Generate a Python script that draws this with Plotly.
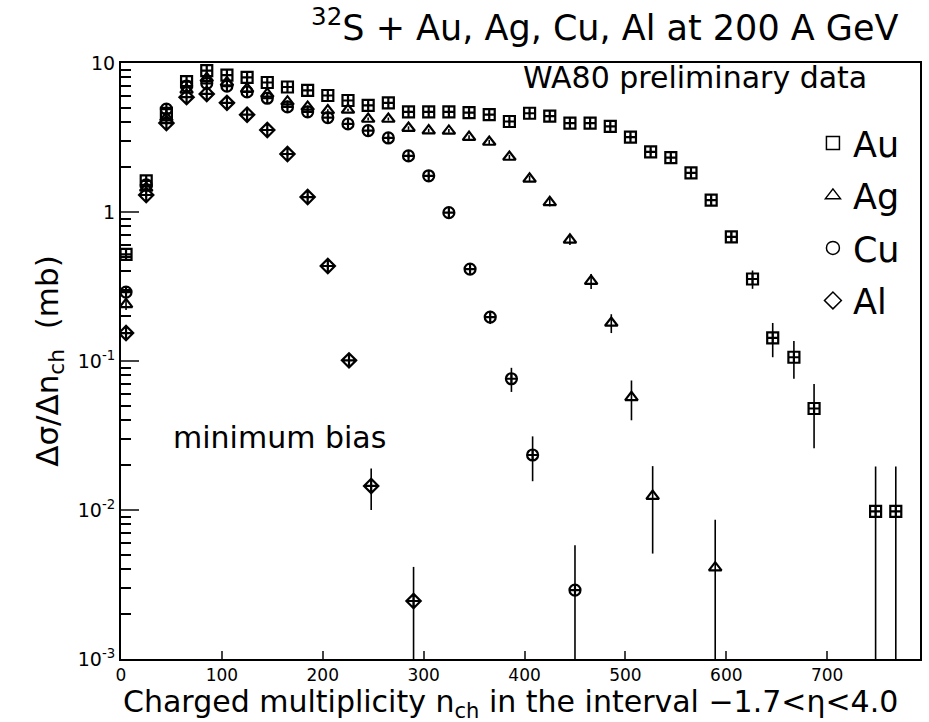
import plotly.graph_objects as go

# ---------------- data ----------------
au_n = [5, 25, 45, 65, 85, 105, 125, 145, 165, 185, 205, 225, 245, 265, 285, 305, 325, 345,
        365, 385, 405, 425, 445, 465, 485, 505, 525, 545, 565, 585, 605, 626, 646, 667, 687,
        748, 768]
au_val = [0.52, 1.62, 4.6, 7.5, 8.9, 8.3, 8.0, 7.4, 6.9, 6.55, 6.05, 5.6, 5.2, 5.4, 4.7, 4.7,
          4.7, 4.65, 4.5, 4.05, 4.6, 4.4, 3.95, 3.95, 3.75, 3.18, 2.53, 2.32, 1.83, 1.2, 0.68,
          0.355, 0.143, 0.106, 0.048, 0.0098, 0.0098]
au_err = [0.03, 0.05, 0.1, 0.1, 0.1, 0.1, 0.1, 0.1, 0.1, 0.1, 0.1, 0.1, 0.1, 0.1, 0.1, 0.1,
          0.1, 0.1, 0.1, 0.1, 0.1, 0.1, 0.1, 0.1, 0.1, 0.1, 0.1, 0.1, 0.08, 0.06, 0.06,
          0.05, 0.037, 0.03, 0.022, 0.0098, 0.0098]

ag_n = [5, 25, 45, 65, 85, 105, 125, 145, 165, 185, 205, 225, 245, 265, 285, 305, 325, 345,
        365, 385, 405, 425, 445, 466, 486, 506, 527, 589]
ag_val = [0.24, 1.45, 4.3, 6.6, 7.9, 7.4, 6.7, 6.2, 5.5, 5.07, 4.8, 4.84, 4.21, 4.21, 3.66,
          3.52, 3.5, 3.18, 2.95, 2.34, 1.67, 1.16, 0.65, 0.344, 0.18, 0.057, 0.0124, 0.0041]
ag_err = [0.02, 0.05, 0.1, 0.1, 0.1, 0.1, 0.1, 0.1, 0.1, 0.1, 0.1, 0.1, 0.1, 0.1, 0.1,
          0.1, 0.1, 0.1, 0.1, 0.08, 0.08, 0.07, 0.05, 0.04, 0.026, 0.017, 0.0073, 0.0045]

cu_n = [5, 25, 45, 65, 85, 105, 125, 145, 165, 185, 205, 225, 245, 265, 285, 305, 325, 346,
        366, 387, 408, 450]
cu_val = [0.29, 1.52, 4.9, 7.0, 7.3, 7.0, 6.4, 5.8, 5.07, 4.7, 4.3, 3.9, 3.52, 3.14, 2.38,
          1.75, 0.99, 0.414, 0.197, 0.076, 0.0234, 0.0029]
cu_err = [0.02, 0.05, 0.1, 0.1, 0.1, 0.1, 0.1, 0.1, 0.1, 0.1, 0.1, 0.1, 0.1, 0.1, 0.08,
          0.06, 0.05, 0.025, 0.02, 0.014, 0.0078, 0.0029]

al_n = [5, 25, 45, 65, 85, 105, 125, 145, 165, 185, 205, 226, 248, 290]
al_val = [0.154, 1.3, 3.95, 5.9, 6.2, 5.4, 4.5, 3.55, 2.45, 1.26, 0.434, 0.101, 0.0145, 0.00245]
al_err = [0.015, 0.05, 0.1, 0.1, 0.1, 0.1, 0.1, 0.1, 0.08, 0.05, 0.02, 0.008, 0.0045, 0.0017]

series = [
    ("Au", au_n, au_val, au_err, "square-cross-open", "square-open"),
    ("Ag", ag_n, ag_val, ag_err, "triangle-up-open", "triangle-up-open"),
    ("Cu", cu_n, cu_val, cu_err, "circle-cross-open", "circle-open"),
    ("Al", al_n, al_val, al_err, "diamond-cross-open", "diamond-open"),
]

x_ticks = [0, 100, 200, 300, 400, 500, 600, 700]
y_ticks = [1e-3, 1e-2, 1e-1, 1, 10]
y_ticktext = ["10<sup>-3</sup>", "10<sup>-2</sup>", "10<sup>-1</sup>", "1", "10"]
y_minor = [m * 10 ** e for e in (-3, -2, -1, 0) for m in range(2, 10)]

FONT = "DejaVu Sans"

fig = go.Figure()
for name, n, v, e, sym, legsym in series:
    minus = [min(ei, 0.995 * vi) for ei, vi in zip(e, v)]
    fig.add_trace(go.Scatter(
        x=n, y=v, mode="markers", name=name, showlegend=False,
        marker=dict(symbol=sym, size=11, color="black", line=dict(color="black", width=2.2)),
        error_y=dict(type="data", array=e, arrayminus=minus, symmetric=False,
                     color="black", thickness=1.6, width=0),
    ))
for name, n, v, e, sym, legsym in series:
    fig.add_trace(go.Scatter(
        x=[None], y=[None], mode="markers", name=name, legendgroup=name,
        marker=dict(symbol=legsym, size=13, color="black", line=dict(color="black", width=1.5)),
    ))

fig.update_layout(
    width=929, height=722,
    margin=dict(l=121, r=7, t=63, b=63),
    paper_bgcolor="white", plot_bgcolor="white",
    font=dict(family=FONT, color="black"),
    title=dict(text="<sup>32</sup>S + Au, Ag, Cu, Al at 200 A GeV",
               font=dict(size=35, family=FONT), xref="container", x=0.651, xanchor="center",
               yref="container", y=0.962, yanchor="middle"),
    legend=dict(x=0.866, y=0.915, xanchor="left", yanchor="top",
                font=dict(size=35, family=FONT), bgcolor="rgba(0,0,0,0)",
                tracegroupgap=4, itemsizing="trace"),
    xaxis=dict(range=[0, 792], tickvals=x_ticks, ticks="inside", ticklen=8, tickwidth=1.5,
               showline=True, linecolor="black", linewidth=2, mirror=True, showgrid=False,
               zeroline=False, tickfont=dict(size=17, family=FONT)),
    yaxis=dict(type="log", range=[-3, 1], tickmode="array", tickvals=y_ticks,
               ticktext=y_ticktext, ticks="inside", ticklen=18, tickwidth=1.5,
               showline=True, linecolor="black", linewidth=2, mirror=True, showgrid=False,
               zeroline=False, tickfont=dict(size=19, family=FONT),
               minor=dict(tickmode="array", tickvals=y_minor, ticks="inside", ticklen=10,
                          tickwidth=1.5, tickcolor="black", showgrid=False),
               title=dict(text="Δσ/Δn<sub>ch</sub>  (mb)", font=dict(size=31, family=FONT),
                          standoff=10)),
    annotations=[
        dict(text="Charged multiplicity n<sub>ch</sub> in the interval −1.7<η<4.0",
             xref="paper", yref="paper", x=0.488, y=-0.0745, xanchor="center", yanchor="middle",
             showarrow=False, font=dict(size=30, family=FONT)),
        dict(text="WA80 preliminary data", xref="paper", yref="paper", x=0.50, y=0.975,
             xanchor="left", yanchor="middle", showarrow=False,
             font=dict(size=30, family=FONT)),
        dict(text="minimum bias", xref="paper", yref="paper", x=0.062, y=0.371,
             xanchor="left", yanchor="middle", showarrow=False,
             font=dict(size=30, family=FONT)),
    ],
)

fig.write_html("out.html")
